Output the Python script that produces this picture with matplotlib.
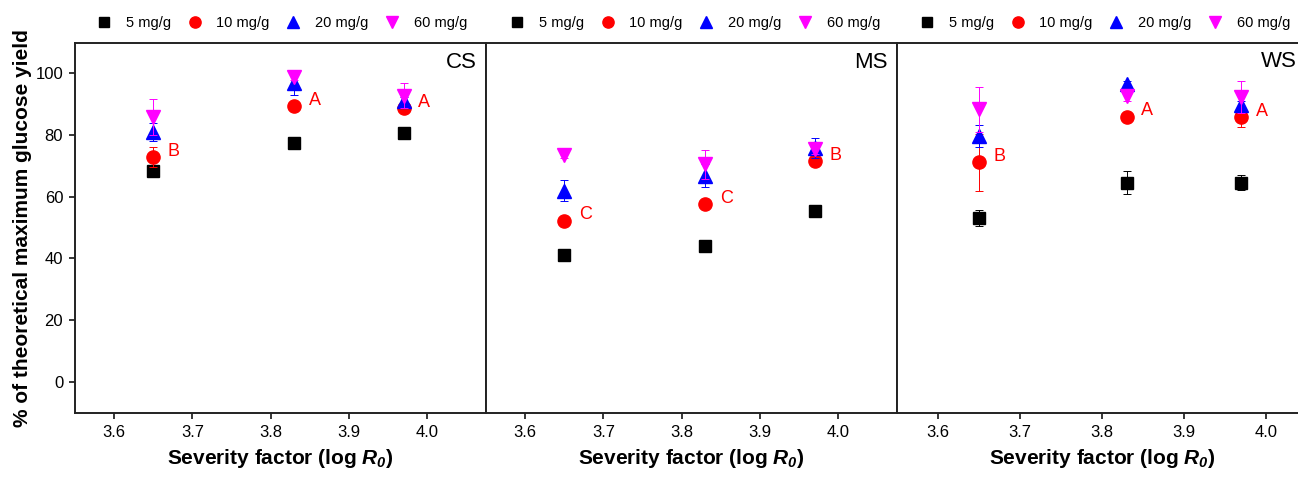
import matplotlib.pyplot as plt
from matplotlib.lines import Line2D

plt.rcParams['font.family'] = ['Liberation Sans', 'DejaVu Sans']
plt.rcParams['mathtext.fontset'] = 'custom'
plt.rcParams['mathtext.rm'] = 'Liberation Sans:italic:bold'
plt.rcParams['mathtext.it'] = 'Liberation Sans:italic:bold'

# данные: фактор жесткости и выход глюкозы для трех субстратов
severity = [3.65, 3.83, 3.97]
doses = ['5 mg/g', '10 mg/g', '20 mg/g', '60 mg/g']
panels = ['CS', 'MS', 'WS']

# строки: 5, 10, 20, 60 mg/g
cs_mean = [[68.4, 77.5, 80.8], [73.0, 89.4, 88.9], [81.1, 97.0, 90.9], [85.9, 98.7, 92.8]]
cs_err = [[1.0, 1.0, 1.2], [3.2, 1.5, 1.5], [2.9, 4.0, 1.5], [5.8, 1.0, 4.0]]
ms_mean = [[41.2, 44.1, 55.5], [52.3, 57.6, 71.7], [62.0, 66.8, 75.8], [73.6, 70.5, 75.4]]
ms_err = [[0.8, 1.0, 0.8], [1.0, 1.0, 1.0], [3.3, 3.8, 3.4], [1.0, 4.7, 1.5]]
ws_mean = [[53.1, 64.6, 64.6], [71.2, 86.0, 85.8], [79.6, 96.4, 89.6], [88.3, 92.5, 92.4]]
ws_err = [[2.5, 3.8, 2.5], [9.2, 1.0, 3.3], [3.6, 1.0, 1.5], [7.4, 1.5, 5.2]]

cs_letters = ['B', 'A', 'A']
ms_letters = ['C', 'C', 'B']
ws_letters = ['B', 'A', 'A']

colors = ['black', '#ff0000', '#0000ff', '#ff00ff']
markers = ['s', 'o', '^', 'v']
msizes = [9, 9.5, 10.5, 10.5]

W, H = 1298, 479
fig = plt.figure(figsize=(W / 100, H / 100), dpi=100)

# положение панелей в пикселях: (лево, ширина, xmax)
boxes = [(75, 411, 4.075), (486, 411, 4.075), (897, 430.5, 4.075)]
bottom, top = 412.7, 42.5
legend_cx = [282, 695, 1105]
xlabel_x = [0.5, 0.5, 0.478]

data = [(cs_mean, cs_err, cs_letters), (ms_mean, ms_err, ms_letters), (ws_mean, ws_err, ws_letters)]

for i, (mean, err, letters) in enumerate(data):
    left, width, xmax = boxes[i]
    ax = fig.add_axes([left / W, (H - bottom) / H, width / W, (bottom - top) / H])
    for j in range(4):
        ax.errorbar(severity, mean[j], yerr=err[j], fmt=markers[j], color=colors[j],
                    ms=msizes[j], mec=colors[j], elinewidth=0.7, capsize=3, capthick=0.7,
                    zorder=3 + j)
    # буквы значимости рядом с 10 mg/g
    for k in range(3):
        ax.annotate(letters[k], xy=(severity[k], mean[1][k]), xytext=(10.5, 4),
                    textcoords='offset points', ha='left', va='center',
                    color='#ff0000', fontsize=13)
    # подпись панели (у WS правый край обрезан, ставим в координатах фигуры)
    if i < 2:
        ax.text(0.978, 0.975, panels[i], transform=ax.transAxes, ha='right', va='top', fontsize=16)
    else:
        fig.text(1261 / W, 1 - 51 / H, panels[i], ha='left', va='top', fontsize=16)
    ax.set_xlim(3.55, xmax)
    ax.set_ylim(-10, 110)
    ax.set_xticks([3.6, 3.7, 3.8, 3.9, 4.0])
    ax.set_xticklabels(['3.6', '3.7', '3.8', '3.9', '4.0'])
    ax.tick_params(direction='out', length=4, width=1.1, labelsize=12, pad=4.5)
    for s in ax.spines.values():
        s.set_linewidth(1.4)
        s.set_color('#222222')
    if i == 0:
        ax.set_yticks([0, 20, 40, 60, 80, 100])
        ax.set_ylabel('% of theoretical maximum glucose yield', fontsize=15, fontweight='bold')
        ax.yaxis.set_label_coords(-0.105, 0.5)
    else:
        ax.set_yticks([])
    ax.set_xlabel(r'Severity factor (log $R_0$)', fontsize=15, fontweight='bold')
    ax.xaxis.set_label_coords(xlabel_x[i], -0.093)

    handles = [Line2D([], [], ls='none', marker=markers[j], color=colors[j], ms=msizes[j] * 0.85)
               for j in range(4)]
    fig.legend(handles, doses, loc='center', bbox_to_anchor=(legend_cx[i] / W, 1 - 23 / H),
               ncol=4, frameon=False, fontsize=10.5, handlelength=1.0,
               handletextpad=1.0, columnspacing=1.1)

plt.savefig('out.png', dpi=100)
